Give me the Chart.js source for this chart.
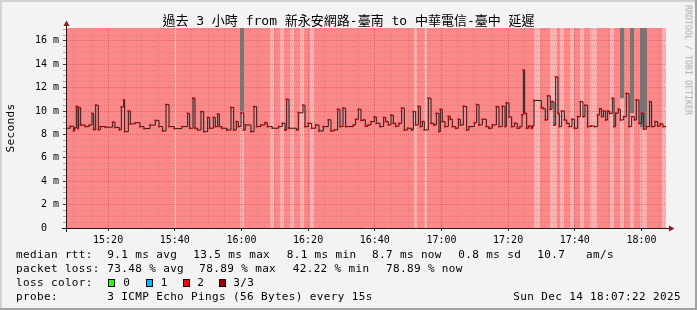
<!DOCTYPE html>
<html>
<head>
<meta charset="utf-8">
<script src="https://cdn.jsdelivr.net/npm/chart.js@4.4.1/dist/chart.umd.min.js"></script>
<style>
  html, body { margin: 0; padding: 0; background: #f3f3f3; }
  #wrap { position: relative; width: 697px; height: 310px; background: #f3f3f3; overflow: hidden; }
  #c { position: absolute; left: 0; top: 0; }
  .t { position: absolute; white-space: pre; font-family: 'DejaVu Sans Mono', monospace; font-size: 11px; line-height: 14px; letter-spacing: 0.36px; color: #000; }
  .box { position: absolute; width: 5px; height: 6px; border: 1px solid #000; }
  #title { position: absolute; left: 0; top: 13px; width: 697px; text-align: center; white-space: pre;
           font-family: 'DejaVu Sans Mono', 'Noto Sans CJK TC', monospace; font-size: 13px; line-height: 16px; color: #000; }
  #ylab { position: absolute; left: 11px; top: 128px; transform: translate(-50%, -50%) rotate(-90deg); white-space: pre;
          font-family: 'DejaVu Sans Mono', monospace; font-size: 11px; line-height: 12px; letter-spacing: 0.36px; }
  #wm { position: absolute; left: 688px; top: 60px; transform: translate(-50%, -50%) rotate(90deg); white-space: pre;
        font-family: 'DejaVu Sans Mono', monospace; font-size: 8.3px; line-height: 9px; color: #ababab; }
  .edge { position: absolute; }
</style>
</head>
<body>
<div id="wrap">
  <canvas id="c" width="697" height="310"></canvas>
  <div id="title">過去 3 小時 from 新永安網路-臺南 to 中華電信-臺中 延遲</div>
  <div id="ylab">Seconds</div>
  <div id="wm">RRDTOOL / TOBI OETIKER</div>

  <div class="t" style="left:16px;top:247.5px">median rtt:</div>
  <div class="t" style="left:107.3px;top:247.5px">9.1 ms avg</div>
  <div class="t" style="left:193.3px;top:247.5px">13.5 ms max</div>
  <div class="t" style="left:286.7px;top:247.5px">8.1 ms min</div>
  <div class="t" style="left:372px;top:247.5px">8.7 ms now</div>
  <div class="t" style="left:458.3px;top:247.5px">0.8 ms sd</div>
  <div class="t" style="left:537.3px;top:247.5px">10.7</div>
  <div class="t" style="left:586px;top:247.5px">am/s</div>

  <div class="t" style="left:16px;top:261.5px">packet loss:</div>
  <div class="t" style="left:107.3px;top:261.5px">73.48 % avg</div>
  <div class="t" style="left:199.3px;top:261.5px">78.89 % max</div>
  <div class="t" style="left:292.7px;top:261.5px">42.22 % min</div>
  <div class="t" style="left:386px;top:261.5px">78.89 % now</div>

  <div class="t" style="left:16px;top:275.5px">loss color:</div>
  <div class="box" style="left:108px;top:278.5px;background:#26ff00"></div>
  <div class="t" style="left:123.3px;top:275.5px">0</div>
  <div class="box" style="left:145.5px;top:278.5px;background:#00b8ff"></div>
  <div class="t" style="left:160.7px;top:275.5px">1</div>
  <div class="box" style="left:182.5px;top:278.5px;background:#ff0000"></div>
  <div class="t" style="left:197.3px;top:275.5px">2</div>
  <div class="box" style="left:219.3px;top:278.5px;background:#a00000"></div>
  <div class="t" style="left:233.3px;top:275.5px">3/3</div>

  <div class="t" style="left:16px;top:289.5px">probe:</div>
  <div class="t" style="left:107.3px;top:289.5px">3 ICMP Echo Pings (56 Bytes) every 15s</div>
  <div class="t" style="left:513.3px;top:289.5px">Sun Dec 14 18:07:22 2025</div>

  <div class="edge" style="left:0;top:0;width:697px;height:2px;background:#d2d2d2"></div>
  <div class="edge" style="left:0;top:0;width:2px;height:310px;background:#d2d2d2"></div>
  <div class="edge" style="left:0;top:308px;width:697px;height:2px;background:#a2a2a2"></div>
  <div class="edge" style="left:695px;top:0;width:2px;height:310px;background:#a2a2a2"></div>
</div>
<script>
// ---- data (time = minutes after window start 15:07:22, values in ms) ----
const windowStartMinAfter15 = 7 + 22 / 60;
const windowLengthMin = 180;

const medianT = [0,1.3,2.3,2.6,3.1,3.6,3.8,4.4,5.8,7.0,7.8,8.3,8.9,9.7,10.3,11.8,14.0,14.7,16.0,16.6,17.3,17.6,18.7,19.3,20.8,22.2,23.4,25.2,26.8,27.9,29.0,30.0,30.9,32.5,34.8,36.5,37.1,38.1,38.7,39.5,40.5,41.3,42.5,43.1,44.2,44.8,45.5,46.0,46.8,48.3,49.5,50.3,51.1,51.7,52.5,53.3,53.8,55.5,56.4,57.2,58.5,59.7,60.4,61.9,63.8,64.9,65.7,66.2,66.9,69.2,69.7,71.1,71.7,72.7,73.7,74.9,75.9,77.2,78.7,79.5,80.5,81.5,82.2,83.1,83.9,86.2,86.9,87.7,88.5,89.3,89.8,90.6,91.5,92.5,93.1,94.2,95.3,95.9,96.7,97.5,98.2,98.9,99.9,100.7,101.5,102.5,103.7,104.2,104.9,105.7,106.3,106.9,107.5,108.7,109.5,110.4,111.1,111.9,112.3,112.9,113.7,114.7,115.3,115.9,116.9,117.7,118.3,119.2,120.2,120.9,122.5,123.2,123.9,124.9,126.1,126.9,127.9,129.1,129.9,130.9,131.7,132.1,132.9,133.7,134.6,135.4,136.2,136.8,137.2,137.6,138.2,138.8,139.6,140.0,140.4,142.6,143.2,143.8,144.5,145.3,145.8,146.4,146.9,147.6,148.0,148.7,149.5,150.2,151.0,151.8,152.5,153.5,154.3,155.1,155.7,156.5,157.4,158.6,159.5,160.1,160.7,161.3,161.9,162.5,163.1,163.9,164.4,164.9,165.7,166.3,167.3,168.1,168.9,169.7,170.5,171.1,171.9,172.7,173.3,174.1,175.1,175.7,176.7,177.5,178.3,179.1,180];
const medianV = [8.53,8.7,8.3,8.55,10.4,8.5,10.3,8.8,8.67,8.8,9.8,8.4,10.5,8.4,8.67,8.62,9.05,8.6,8.4,10.35,10.95,8.24,10.0,8.9,9.0,8.67,8.5,8.8,9.2,8.67,8.3,10.55,8.67,8.5,8.67,9.8,8.53,11.1,8.53,8.38,9.95,8.24,9.45,8.53,9.45,8.67,9.75,8.67,8.53,8.38,10.3,8.38,9.1,8.67,9.85,8.38,8.81,8.24,10.38,8.67,8.81,9.0,8.67,8.53,8.67,8.95,8.38,11.0,8.53,8.38,9.85,10.5,8.67,8.95,8.53,8.81,8.3,8.67,9.25,8.3,8.38,10.15,8.67,10.25,8.67,8.81,9.3,10.15,9.2,9.25,8.7,8.81,9.1,9.5,8.95,8.67,9.45,9.1,8.81,9.65,8.95,8.7,8.95,10.25,8.38,8.53,8.38,9.95,8.81,10.4,8.67,9.1,8.38,11.1,8.95,8.81,9.8,8.24,10.15,9.1,8.67,9.55,9.3,8.67,8.53,9.3,8.81,10.4,8.38,8.67,9.0,10.55,8.81,9.3,8.67,8.53,8.81,10.38,8.67,10.4,8.67,10.7,9.5,8.67,8.95,8.53,8.67,9.67,13.5,9.81,8.53,8.72,8.53,8.72,10.9,10.3,10.2,9.24,11.3,10.15,10.8,8.8,12.9,9.81,8.67,10.0,9.24,8.95,8.67,9.3,8.53,9.52,10.8,9.52,10.5,8.67,8.72,8.67,9.67,10.2,9.52,10.0,9.24,10.0,9.8,11.1,8.67,9.81,10.15,9.24,9.52,11.5,8.67,9.52,9.24,10.95,8.95,9.81,8.45,8.67,10.8,8.67,9.1,8.72,8.9,8.67,8.67];

// intervals with lower packet loss (lighter background)
const lowLossStart = [32.4,52.2,61.2,64.2,67.2,70.2,73.2,104.4,107.4,140.4,145.2,148.2,151.2,154.2,157.2,163.2,166.2,169.2,172.2,178.8];
const lowLossEnd   = [33.0,53.4,62.4,65.4,68.4,71.4,74.4,105.3,108.3,142.2,147.3,149.4,152.4,155.4,159.3,164.4,167.4,170.4,174.3,180.0];

// smoke (ping spread reaching above the graph top)
const smokeStart = [52.2,166.2,169.2,172.2];
const smokeEnd   = [53.4,167.4,170.4,174.3];
const smokeLow   = [9.95,11.1,9.8,8.6];

// axis ticks
const xTickMinutes = [20,40,60,80,100,120,140,160,180];   // minutes after 15:00
const xTickLabels  = ['15:20','15:40','16:00','16:20','16:40','17:00','17:20','17:40','18:00'];
const yMax = 17.1;

// ---- chart ----
const toX = t => windowStartMinAfter15 + t;
const MAJOR_GRID = 'rgba(150,70,70,0.45)';
const MINOR_GRID = 'rgba(140,140,140,0.45)';

const bgPlugin = {
  id: 'lossBackground',
  beforeDraw(chart) {
    const { ctx, chartArea: a, scales: { x } } = chart;
    ctx.save();
    ctx.fillStyle = '#ff8787';
    ctx.fillRect(a.left, a.top, a.right - a.left, a.bottom - a.top);
    ctx.fillStyle = '#ffb0b0';
    lowLossStart.forEach((s, i) => {
      const x0 = x.getPixelForValue(toX(s));
      const x1 = x.getPixelForValue(toX(lowLossEnd[i]));
      ctx.fillRect(x0, a.top, x1 - x0, a.bottom - a.top);
    });
    ctx.restore();
  },
  beforeDatasetsDraw(chart) {
    const { ctx, chartArea: a, scales: { x, y } } = chart;
    ctx.save();
    ctx.fillStyle = '#767676';
    smokeStart.forEach((s, i) => {
      const x0 = x.getPixelForValue(toX(s));
      const x1 = x.getPixelForValue(toX(smokeEnd[i]));
      const yb = y.getPixelForValue(smokeLow[i]);
      ctx.fillRect(x0, a.top, x1 - x0, yb - a.top);
    });
    ctx.restore();
  },
  afterDatasetsDraw(chart) {
    const { ctx, chartArea: a } = chart;
    ctx.save();
    ctx.strokeStyle = '#1a1a1a';
    ctx.lineWidth = 1;
    ctx.beginPath();
    ctx.moveTo(a.left - 4, a.bottom + 0.5);
    ctx.lineTo(a.right + 5, a.bottom + 0.5);
    ctx.moveTo(a.left + 0.5, a.bottom + 4);
    ctx.lineTo(a.left + 0.5, a.top - 4);
    ctx.stroke();
    ctx.fillStyle = '#8c1c1c';
    ctx.beginPath();
    ctx.moveTo(a.right + 3, a.bottom + 0.5 - 3);
    ctx.lineTo(a.right + 8.5, a.bottom + 0.5);
    ctx.lineTo(a.right + 3, a.bottom + 0.5 + 3);
    ctx.closePath();
    ctx.fill();
    ctx.beginPath();
    ctx.moveTo(a.left + 0.5 - 3, a.top - 2);
    ctx.lineTo(a.left + 0.5, a.top - 7.5);
    ctx.lineTo(a.left + 0.5 + 3, a.top - 2);
    ctx.closePath();
    ctx.fill();
    ctx.restore();
  }
};

const isMajorX = v => Math.abs(v % 20) < 1e-6;
const isMajorY = v => Math.abs(v % 2) < 1e-6;

new Chart(document.getElementById('c'), {
  type: 'line',
  data: {
    datasets: [{
      label: 'median rtt',
      data: medianT.map((t, i) => ({ x: toX(t), y: medianV[i] })),
      stepped: true,
      borderColor: '#1e1e1e',
      borderWidth: 1,
      pointStyle: 'rect',
      pointRadius: 1.3,
      pointBackgroundColor: '#e00000',
      pointBorderWidth: 0,
      fill: false
    }]
  },
  options: {
    responsive: false,
    animation: false,
    devicePixelRatio: 1,
    layout: { padding: { left: 0, right: 31, top: 28, bottom: 0 } },
    plugins: { legend: { display: false }, tooltip: { enabled: false }, title: { display: false } },
    scales: {
      x: {
        type: 'linear',
        min: toX(0),
        max: toX(windowLengthMin),
        afterBuildTicks: s => {
          const ticks = [];
          for (let v = 10; v <= 185; v += 5) ticks.push({ value: v });
          s.ticks = ticks;
        },
        afterFit: s => { s.height = 82; },
        border: { display: false, dash: [1, 1] },
        grid: {
          color: c => isMajorX(c.tick.value) ? MAJOR_GRID : MINOR_GRID,
          lineWidth: 1,
          tickLength: 3,
          tickColor: c => isMajorX(c.tick.value) ? '#333' : 'rgba(0,0,0,0)',
          tickBorderDash: []
        },
        ticks: {
          autoSkip: false, maxRotation: 0, minRotation: 0, padding: 3,
          color: '#000',
          font: { family: "'DejaVu Sans Mono', monospace", size: 10 },
          callback: v => { const i = xTickMinutes.indexOf(v); return i >= 0 ? xTickLabels[i] : ''; }
        }
      },
      y: {
        type: 'linear',
        min: 0,
        max: yMax,
        afterBuildTicks: s => {
          const ticks = [];
          for (let v = 0; v <= 17; v += 0.5) ticks.push({ value: v });
          s.ticks = ticks;
        },
        afterFit: s => { s.width = 66; },
        border: { display: false, dash: [1, 1] },
        grid: {
          color: c => isMajorY(c.tick.value) ? MAJOR_GRID : MINOR_GRID,
          lineWidth: 1,
          tickLength: 3,
          tickColor: c => isMajorY(c.tick.value) ? '#333' : 'rgba(120,120,120,0.6)',
          tickBorderDash: []
        },
        ticks: {
          autoSkip: false, padding: 4,
          color: '#000',
          font: { family: "'DejaVu Sans Mono', monospace", size: 10 },
          callback: v => isMajorY(v) ? (v === 0 ? '0  ' : v + ' m') : ''
        }
      }
    }
  },
  plugins: [bgPlugin]
});
</script>
</body>
</html>
